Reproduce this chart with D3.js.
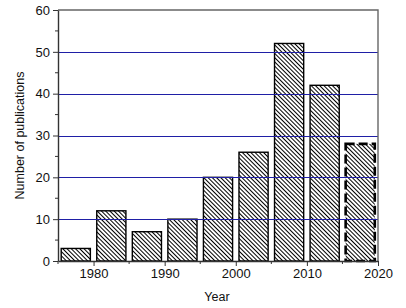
<!DOCTYPE html>
<html lang="en">
<head>
  <meta charset="utf-8">
  <title>Publications per year</title>
  <script src="https://cdn.jsdelivr.net/npm/d3@7/dist/d3.min.js"></script>
  <style>
    html, body { margin: 0; padding: 0; background: #fff; }
    svg { display: block; font-family: "Liberation Sans", Arial, sans-serif; }
  </style>
</head>
<body>
<div id="chart"></div>
<script>
  // ── data (5-year bins, start year) ──
  const binStarts = [1975, 1980, 1985, 1990, 1995, 2000, 2005, 2010, 2015];
  const counts    = [3, 12, 7, 10, 20, 26, 52, 42, 28];
  const yearTicks = [1980, 1990, 2000, 2010, 2020];
  const countTicks = [0, 10, 20, 30, 40, 50, 60];
  const gridValues = [10, 20, 30, 40, 50];

  const W = 406, H = 308;
  const m = {top: 10, right: 28, bottom: 47, left: 58};

  const x = d3.scaleLinear().domain([1975, 2020]).range([m.left, W - m.right]);
  const y = d3.scaleLinear().domain([0, 60]).range([H - m.bottom, m.top]);

  const svg = d3.select('#chart').append('svg')
    .attr('width', W).attr('height', H);

  // hatch pattern "\\\\"
  svg.append('defs').append('pattern')
      .attr('id', 'hatch')
      .attr('patternUnits', 'userSpaceOnUse')
      .attr('width', 3).attr('height', 3)
      .attr('patternTransform', 'rotate(-45)')
    .append('line')
      .attr('x1', 0.5).attr('y1', 0).attr('x2', 0.5).attr('y2', 3)
      .attr('stroke', '#000').attr('stroke-width', 1);

  // bars
  const bars = binStarts.map((s, i) => ({s, v: counts[i], last: i === binStarts.length - 1}));
  svg.append('g')
    .selectAll('rect')
    .data(bars)
    .join('rect')
      .attr('x', d => x(d.s + 0.45))
      .attr('width', d => x(d.s + 4.55) - x(d.s + 0.45))
      .attr('y', d => y(d.v))
      .attr('height', d => y(0) - y(d.v))
      .attr('fill', 'url(#hatch)')
      .attr('stroke', '#000')
      .attr('stroke-width', d => d.last ? 2.6 : 1.4)
      .attr('stroke-dasharray', d => d.last ? '9 4' : null);

  // grid lines (drawn over the bars, as in the original)
  svg.append('g')
    .selectAll('line')
    .data(gridValues)
    .join('line')
      .attr('x1', x(1975)).attr('x2', x(2020))
      .attr('y1', d => Math.round(y(d)) + 0.5).attr('y2', d => Math.round(y(d)) + 0.5)
      .attr('stroke', '#1f1fa6').attr('stroke-width', 1.2);

  // frame (top + right)
  svg.append('path')
    .attr('d', `M${x(1975)},${y(60)}H${x(2020)}V${y(0)}`)
    .attr('fill', 'none').attr('stroke', '#666').attr('stroke-width', 1.4);

  // axes
  const xAxis = d3.axisBottom(x).tickValues(yearTicks).tickFormat(d3.format('d'))
    .tickSizeInner(5).tickSizeOuter(0).tickPadding(3);
  const yAxis = d3.axisLeft(y).tickValues(countTicks)
    .tickSizeInner(5).tickSizeOuter(0).tickPadding(3);

  const gx = svg.append('g').attr('transform', `translate(0,${y(0)})`).call(xAxis);
  const gy = svg.append('g').attr('transform', `translate(${x(1975)},0)`).call(yAxis);

  // minor ticks
  gx.selectAll('.minor').data([1975, 1985, 1995, 2005, 2015]).join('line')
    .attr('class', 'minor')
    .attr('x1', d => x(d)).attr('x2', d => x(d)).attr('y1', 0).attr('y2', 3)
    .attr('stroke', '#333');
  gy.selectAll('.minor').data([5, 15, 25, 35, 45, 55]).join('line')
    .attr('class', 'minor')
    .attr('y1', d => y(d)).attr('y2', d => y(d)).attr('x1', 0).attr('x2', -3)
    .attr('stroke', '#333');

  [gx, gy].forEach(g => {
    g.select('.domain').attr('stroke', '#333').attr('stroke-width', 1.4);
    g.selectAll('.tick line').attr('stroke', '#333');
    g.selectAll('.tick text').attr('font-size', 13).attr('fill', '#111')
      .attr('font-family', '"Liberation Sans", Arial, sans-serif');
  });

  // axis titles
  svg.append('text')
    .attr('x', (x(1975) + x(2020)) / 2 - 1).attr('y', 301)
    .attr('text-anchor', 'middle').attr('font-size', 12.5).attr('fill', '#111')
    .text('Year');

  svg.append('text')
    .attr('transform', `translate(24,${(y(0) + y(60)) / 2}) rotate(-90)`)
    .attr('text-anchor', 'middle').attr('font-size', 12.5).attr('fill', '#111')
    .text('Number of publications');
</script>
</body>
</html>
